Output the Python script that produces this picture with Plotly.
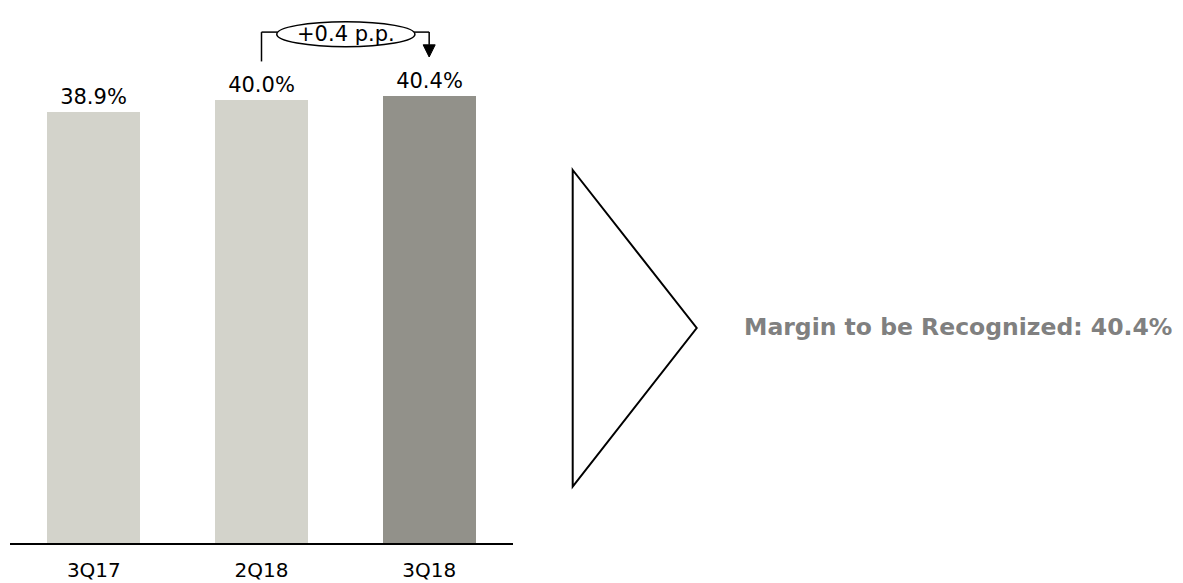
import plotly.graph_objects as go

categories = ["3Q17", "2Q18", "3Q18"]
margins = [38.9, 40.0, 40.4]
bar_colors = ["#D3D3CB", "#D3D3CB", "#92918A"]
delta_label = "+0.4 p.p."
side_text = "Margin to be Recognized: 40.4%"

W, H = 1183, 583
ML, MR, MT, MB = 10, 0, 0, 40
plot_w = W - ML - MR
plot_h = H - MT - MB
axis_px = 503  # width of the bar axis in pixels
y_top = 49.05

x_pos = list(range(len(categories)))
labels = [f"{v:.1f}%" for v in margins]

fig = go.Figure()
fig.add_trace(go.Bar(
    x=x_pos, y=margins, marker=dict(color=bar_colors, line=dict(width=0)),
    width=0.555, text=labels, textposition="outside",
    textfont=dict(family="DejaVu Sans", size=21, color="black"),
    cliponaxis=False, hoverinfo="skip",
))

# bracket from 2Q18 to 3Q18
i0, i1 = 1, 2
top = max(margins) + 5.75
left_start = margins[i0] + 3.5
arrow_tip = margins[i1] + 3.5
head_base = margins[i1] + 4.6
shapes = [
    dict(type="line", xref="x", yref="y", x0=i0, x1=i0, y0=left_start, y1=top,
         line=dict(color="black", width=1.5)),
    dict(type="line", xref="x", yref="y", x0=i0, x1=1.095, y0=top, y1=top,
         line=dict(color="black", width=1.5)),
    dict(type="line", xref="x", yref="y", x0=1.91, x1=i1, y0=top, y1=top,
         line=dict(color="black", width=1.5)),
    dict(type="line", xref="x", yref="y", x0=i1, x1=i1, y0=top, y1=head_base,
         line=dict(color="black", width=1.5)),
    dict(type="path", xref="x", yref="y",
         path=f"M {i1-0.036},{head_base} L {i1+0.036},{head_base} L {i1},{arrow_tip} Z",
         fillcolor="black", line=dict(color="black", width=1)),
    dict(type="circle", xref="x", yref="y", x0=1.091, x1=1.915, y0=44.83, y1=47.09,
         line=dict(color="black", width=1.5), fillcolor="white"),
]

def px_x(p):
    return (p - ML) / plot_w

def px_y(p):
    return (H - MB - p) / plot_h

# big triangle
tx0, tx1 = px_x(572.7), px_x(696.7)
ty0, ty1, ty2 = px_y(170), px_y(328), px_y(486.7)
shapes.append(dict(type="path", xref="paper", yref="paper",
                   path=f"M {tx0},{ty0} L {tx1},{ty1} L {tx0},{ty2} Z",
                   line=dict(color="black", width=2), fillcolor="rgba(0,0,0,0)"))

annotations = [
    dict(x=1.503, y=45.96, xref="x", yref="y", text=delta_label, showarrow=False,
         font=dict(family="DejaVu Sans", size=21, color="black"),
         xanchor="center", yanchor="middle"),
    dict(x=px_x(742), y=px_y(327), xref="paper", yref="paper", text=f"<b>{side_text}</b>",
         showarrow=False, xanchor="left", yanchor="middle",
         font=dict(family="DejaVu Sans", size=23.5, color="#808080")),
]

fig.update_layout(
    width=W, height=H, margin=dict(l=ML, r=MR, t=MT, b=MB, pad=0),
    plot_bgcolor="white", paper_bgcolor="white", showlegend=False,
    shapes=shapes, annotations=annotations, bargap=0,
    xaxis=dict(domain=[0, axis_px / plot_w], range=[-0.5, 2.5], tickvals=x_pos,
               ticktext=categories, showline=True, linecolor="black", linewidth=2,
               showgrid=False, zeroline=False, ticks="", ticklabelstandoff=8,
               tickfont=dict(family="DejaVu Sans", size=20, color="black")),
    yaxis=dict(range=[0, y_top], visible=False, showgrid=False, zeroline=False),
)

fig.write_html("out.html")
